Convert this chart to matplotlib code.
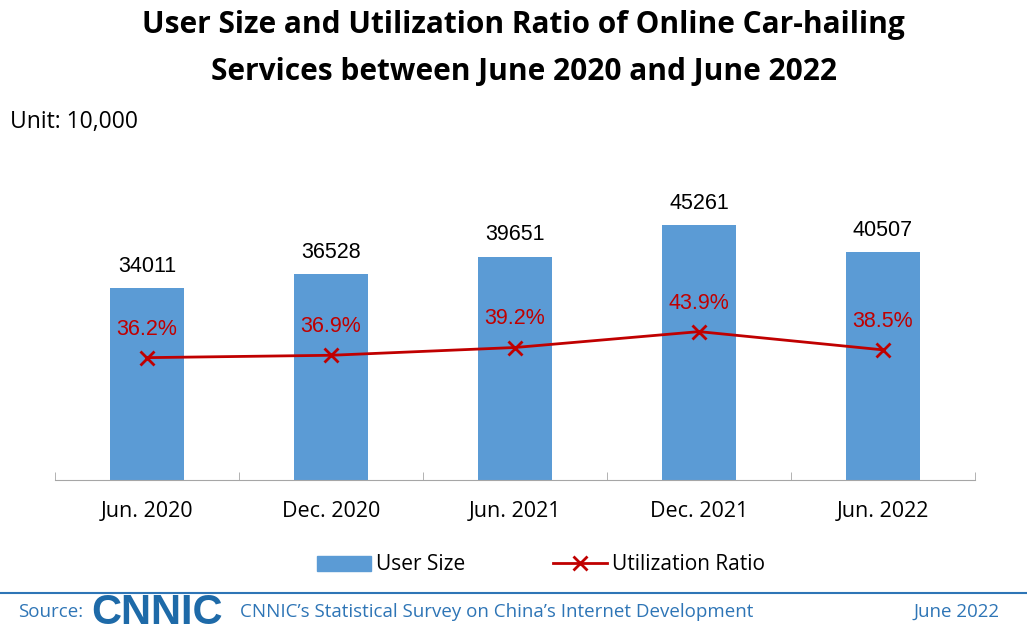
import matplotlib.pyplot as plt
from matplotlib.lines import Line2D
from matplotlib.patches import Patch

plt.rcParams['font.family'] = ['Open Sans', 'DejaVu Sans']

# 数据
periods = ['Jun. 2020', 'Dec. 2020', 'Jun. 2021', 'Dec. 2021', 'Jun. 2022']
user_size = [34011, 36528, 39651, 45261, 40507]
ratio = [36.2, 36.9, 39.2, 43.9, 38.5]

bar_color = '#5b9bd5'
line_color = '#c00000'
blue_text = '#2e75b6'

fig = plt.figure(figsize=(10.27, 6.32), dpi=100)

ax = fig.add_axes([55 / 1027, (632 - 480) / 632, 920 / 1027, 330 / 632])
x = range(len(periods))
ax.bar(x, user_size, width=0.4, color=bar_color, zorder=2)
ax.set_xlim(-0.5, 4.5)
ax.set_ylim(0, 330 / 255 * 45261)
for i, v in enumerate(user_size):
    ax.annotate(str(v), (i, v), xytext=(0, 8), textcoords='offset points',
                ha='center', va='bottom', fontsize=15.5, family=['Liberation Sans'])

ax.set_xticks(list(x))
ax.set_xticklabels(periods, fontsize=15.5)
ax.set_xticks([i + 0.5 for i in range(-1, 5)], minor=True)
ax.tick_params(axis='x', which='major', length=0, pad=15)
ax.tick_params(axis='x', which='minor', direction='in', length=6, color='#a6a6a6')
ax.set_yticks([])
for s in ['top', 'right', 'left']:
    ax.spines[s].set_visible(False)
ax.spines['bottom'].set_color('#a6a6a6')

# 使用率折线
ax2 = ax.twinx()
ax2.plot(list(x), ratio, color=line_color, marker='x', markersize=10, markeredgewidth=2,
         linewidth=2, zorder=3)
ax2.set_ylim(0, 330 / 3.38)
ax2.axis('off')
for i, v in enumerate(ratio):
    ax2.annotate(f'{v}%', (i, v), xytext=(0, 13), textcoords='offset points',
                 ha='center', va='bottom', fontsize=15.5, color=line_color,
                 family=['Liberation Sans'])

# 图例
handles = [Patch(color=bar_color, label='User Size'),
           Line2D([], [], color=line_color, marker='x', markersize=10, markeredgewidth=2,
                  linewidth=2, label='Utilization Ratio')]
fig.legend(handles=handles, loc='center', bbox_to_anchor=(0.527, 1 - 565 / 632), ncol=2,
           frameon=False, fontsize=15, handlelength=2.6, handleheight=0.75,
           columnspacing=4.2, handletextpad=0.25)

fig.text(0.51, 1 - 25 / 632, 'User Size and Utilization Ratio of Online Car-hailing',
         ha='center', va='center', fontsize=21.5, fontweight='bold')
fig.text(0.51, 1 - 72 / 632, 'Services between June 2020 and June 2022',
         ha='center', va='center', fontsize=21.5, fontweight='bold')
fig.text(10 / 1027, 1 - 122 / 632, 'Unit: 10,000', ha='left', va='center', fontsize=16.5)

# 底部来源
fig.add_artist(Line2D([0, 1], [1 - 593 / 632] * 2, color=blue_text, linewidth=1.5))
fig.text(18 / 1027, 1 - 612 / 632, 'Source:', ha='left', va='center', fontsize=13.5,
         color=blue_text)
fig.text(91 / 1027, 1 - 613 / 632, 'CNNIC', ha='left', va='center', fontsize=30,
         fontweight='bold', color='#1e6aa8', family=['Liberation Sans'])
fig.text(240 / 1027, 1 - 612 / 632, 'CNNIC\u2019s Statistical Survey on China\u2019s Internet Development',
         ha='left', va='center', fontsize=13.5, color=blue_text)
fig.text(1000 / 1027, 1 - 612 / 632, 'June 2022', ha='right', va='center', fontsize=13.5,
         color=blue_text)

fig.savefig('out.png', dpi=100)
